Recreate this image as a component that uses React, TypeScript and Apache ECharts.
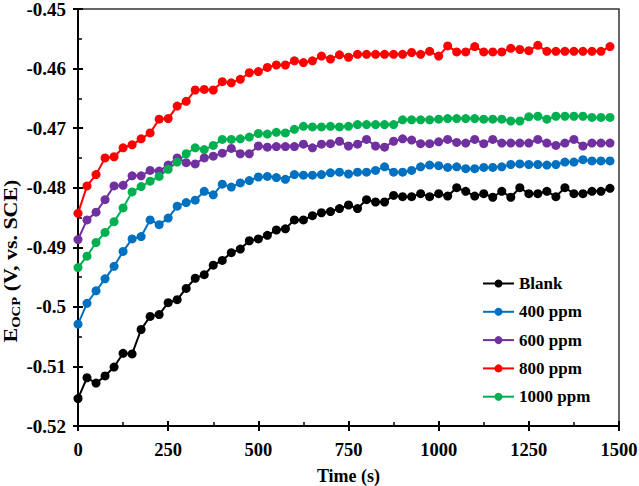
import React, { useEffect, useRef } from "react";
import * as echarts from "echarts";

const times = [
  0, 25, 50, 75, 100, 125, 150, 175, 200, 225, 250, 275, 300, 325, 350, 375, 400, 425, 450, 475,
  500, 525, 550, 575, 600, 625, 650, 675, 700, 725, 750, 775, 800, 825, 850, 875, 900, 925, 950, 975,
  1000, 1025, 1050, 1075, 1100, 1125, 1150, 1175, 1200, 1225, 1250, 1275, 1300, 1325, 1350, 1375, 1400, 1425, 1450, 1475,
];

const blank = [
  -0.5154, -0.5119, -0.5128, -0.5116, -0.5101, -0.5078, -0.5079, -0.5038, -0.5016, -0.5013,
  -0.4993, -0.4988, -0.4969, -0.4952, -0.4946, -0.493, -0.4922, -0.4909, -0.4903, -0.4889,
  -0.4886, -0.488, -0.4871, -0.4869, -0.4854, -0.4854, -0.4847, -0.4842, -0.484, -0.4835,
  -0.4829, -0.4835, -0.482, -0.4824, -0.4824, -0.4813, -0.4815, -0.4815, -0.481, -0.4815,
  -0.481, -0.4814, -0.48, -0.4806, -0.4814, -0.481, -0.4816, -0.4806, -0.4816, -0.48,
  -0.481, -0.481, -0.4806, -0.4815, -0.48, -0.481, -0.481, -0.4806, -0.4806, -0.4801,
];

const ppm400 = [
  -0.5029, -0.4994, -0.4973, -0.4953, -0.4932, -0.4907, -0.4886, -0.4882, -0.4854, -0.4862,
  -0.4851, -0.4831, -0.4825, -0.4821, -0.4806, -0.4812, -0.4794, -0.4799, -0.4792, -0.4788,
  -0.4782, -0.4781, -0.4783, -0.4786, -0.4778, -0.4779, -0.4779, -0.4778, -0.4775, -0.4774,
  -0.4777, -0.4774, -0.4774, -0.4771, -0.4765, -0.4774, -0.4774, -0.4771, -0.4765, -0.4762,
  -0.4763, -0.4766, -0.4765, -0.4768, -0.4768, -0.4766, -0.4766, -0.4765, -0.4761, -0.476,
  -0.4761, -0.4761, -0.4762, -0.4761, -0.4757, -0.4757, -0.4753, -0.4755, -0.4755, -0.4755,
];

const ppm600 = [
  -0.4887, -0.4854, -0.4841, -0.482, -0.4797, -0.4796, -0.478, -0.478, -0.4771, -0.4772,
  -0.4762, -0.475, -0.4758, -0.476, -0.475, -0.4747, -0.4742, -0.4734, -0.4743, -0.4743,
  -0.473, -0.4732, -0.4731, -0.4731, -0.4731, -0.4727, -0.4733, -0.4727, -0.4726, -0.4722,
  -0.473, -0.4727, -0.4719, -0.473, -0.4732, -0.4722, -0.4718, -0.472, -0.4726, -0.4726,
  -0.4723, -0.4719, -0.4724, -0.4725, -0.4719, -0.4726, -0.4719, -0.4725, -0.4725, -0.4725,
  -0.4725, -0.4719, -0.4725, -0.4729, -0.4725, -0.4719, -0.473, -0.4725, -0.4725, -0.4725,
];

const ppm800 = [
  -0.4843, -0.4797, -0.4778, -0.475, -0.4748, -0.4733, -0.4728, -0.4718, -0.4708, -0.4685,
  -0.4684, -0.4663, -0.4655, -0.4636, -0.4635, -0.4636, -0.4622, -0.4624, -0.4618, -0.4607,
  -0.4605, -0.4598, -0.4594, -0.4594, -0.4587, -0.459, -0.4587, -0.4579, -0.4584, -0.4577,
  -0.4581, -0.4576, -0.4576, -0.4576, -0.4576, -0.4576, -0.4576, -0.4573, -0.4576, -0.4571,
  -0.4579, -0.4562, -0.4572, -0.4572, -0.4563, -0.4572, -0.4572, -0.4572, -0.4566, -0.4568,
  -0.457, -0.4561, -0.4571, -0.4571, -0.4571, -0.4571, -0.4571, -0.4571, -0.4571, -0.4563,
];

const ppm1000 = [
  -0.4934, -0.4915, -0.4892, -0.4875, -0.4857, -0.4834, -0.4807, -0.4798, -0.4789, -0.4781,
  -0.4769, -0.4757, -0.4743, -0.4733, -0.4736, -0.4729, -0.4719, -0.4719, -0.4718, -0.4715,
  -0.4709, -0.471, -0.4707, -0.4708, -0.4702, -0.4697, -0.4698, -0.4698, -0.4697, -0.4698,
  -0.4697, -0.4694, -0.4694, -0.4694, -0.4694, -0.4694, -0.4686, -0.4686, -0.4686, -0.4686,
  -0.4685, -0.4684, -0.4684, -0.4684, -0.4684, -0.4685, -0.4685, -0.4685, -0.4688, -0.4688,
  -0.4681, -0.468, -0.4685, -0.468, -0.468, -0.468, -0.468, -0.4682, -0.4682, -0.4682,
];

const seriesNames = ["Blank", "400 ppm", "600 ppm", "800 ppm", "1000 ppm"];
const seriesValues = [blank, ppm400, ppm600, ppm800, ppm1000];
const seriesColors = ["#000000", "#0070C0", "#7030A0", "#FF0000", "#00B050"];

const FONT = "'Liberation Serif', 'Times New Roman', serif";

export default function App() {
  const ref = useRef<HTMLDivElement>(null);

  useEffect(() => {
    if (!ref.current) return;
    const chart = echarts.init(ref.current, undefined, { renderer: "svg" });

    const labelStyle = {
      fontFamily: FONT,
      fontWeight: "bold" as const,
      fontSize: 19,
      color: "#000",
    };

    const option: any = {
      animation: false,
      backgroundColor: "#ffffff",
      grid: {
        left: 78,
        right: 20,
        top: 9,
        bottom: 60,
        show: true,
        borderColor: "#333",
        borderWidth: 1.5,
        backgroundColor: "transparent",
        containLabel: false,
        outerBoundsMode: "none",
      },
      legend: {
        orient: "vertical",
        left: 482,
        top: 275,
        padding: 0,
        itemWidth: 31,
        itemHeight: 10,
        itemGap: 11.3,
        data: seriesNames,
        textStyle: { ...labelStyle, fontSize: 17 },
      },
      xAxis: [
        {
          type: "value",
          min: 0,
          max: 1500,
          interval: 250,
          name: "Time (s)",
          nameLocation: "middle",
          nameGap: 41,
          nameTextStyle: { ...labelStyle, fontSize: 18 },
          axisLine: { show: true, onZero: false, lineStyle: { color: "#000", width: 2 } },
          axisTick: { show: true, inside: true, length: 5, lineStyle: { color: "#000", width: 2 } },
          minorTick: { show: true, splitNumber: 2, length: 4, lineStyle: { color: "#000", width: 1.5 } },
          axisLabel: { ...labelStyle, fontSize: 18.5, margin: 14, formatter: (v: number) => String(v) },
          splitLine: { show: false },
        },
        {
          type: "value",
          min: 0,
          max: 1500,
          interval: 250,
          position: "bottom",
          offset: 0,
          axisLine: { show: false, onZero: false },
          axisTick: { show: true, inside: false, length: 5, lineStyle: { color: "#000", width: 2 } },
          axisLabel: { show: false },
          splitLine: { show: false },
        },
      ],
      yAxis: [
        {
          type: "value",
          min: -0.52,
          max: -0.45,
          interval: 0.01,
          axisLine: { show: true, onZero: false, lineStyle: { color: "#000", width: 2 } },
          axisTick: { show: true, inside: true, length: 5, lineStyle: { color: "#000", width: 2 } },
          minorTick: { show: true, splitNumber: 2, length: 4, lineStyle: { color: "#000", width: 1.5 } },
          axisLabel: { ...labelStyle, margin: 12 },
          splitLine: { show: false },
        },
        {
          type: "value",
          min: -0.52,
          max: -0.45,
          interval: 0.01,
          position: "left",
          offset: 0,
          axisLine: { show: false, onZero: false },
          axisTick: { show: true, inside: false, length: 5, lineStyle: { color: "#000", width: 2 } },
          axisLabel: { show: false },
          splitLine: { show: false },
        },
      ],
      graphic: [
        {
          type: "text",
          x: 11,
          y: 261,
          rotation: Math.PI / 2,
          scaleX: 1.22,
          style: {
            text: "{m|E}{s|OCP}{m| (V, vs. SCE)}",
            align: "center",
            verticalAlign: "middle",
            rich: {
              m: { fontFamily: FONT, fontWeight: "bold", fontSize: 18, fill: "#000", lineHeight: 22 },
              s: {
                fontFamily: FONT,
                fontWeight: "bold",
                fontSize: 12,
                fill: "#000",
                verticalAlign: "bottom",
                lineHeight: 22,
                padding: [8, 0, 0, 0],
              },
            },
          },
        },
      ],
      series: seriesNames.map((name, k) => ({
        name,
        type: "line",
        xAxisIndex: 0,
        yAxisIndex: 0,
        data: times.map((t, i) => [t, seriesValues[k][i]]),
        symbol: "circle",
        symbolSize: 9,
        showSymbol: true,
        lineStyle: { color: seriesColors[k], width: 2 },
        itemStyle: { color: seriesColors[k] },
        emphasis: { disabled: true },
      })),
    };

    chart.setOption(option);
    return () => chart.dispose();
  }, []);

  return (
    <div
      ref={ref}
      style={{ position: "fixed", left: 0, top: 0, width: "639px", height: "486px", background: "#fff" }}
    />
  );
}
